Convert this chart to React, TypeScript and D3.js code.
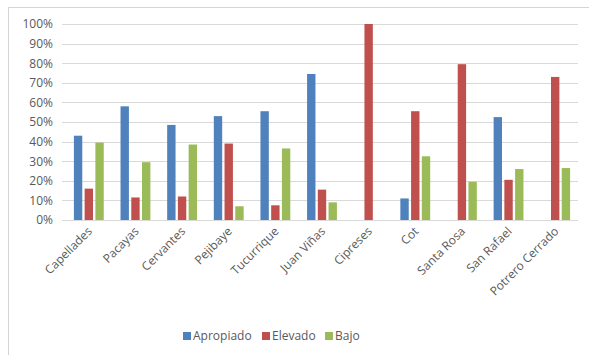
import React from 'react';
import * as d3 from 'd3';

const categories = [
  'Capellades', 'Pacayas', 'Cervantes', 'Pejibaye', 'Tucurrique', 'Juan Viñas',
  'Cipreses', 'Cot', 'Santa Rosa', 'San Rafael', 'Potrero Cerrado',
];
const apropiado = [0.43, 0.58, 0.485, 0.53, 0.555, 0.745, 0, 0.11, 0, 0.525, 0];
const elevado = [0.16, 0.115, 0.12, 0.39, 0.075, 0.155, 1.0, 0.555, 0.795, 0.205, 0.73];
const bajo = [0.395, 0.295, 0.385, 0.07, 0.365, 0.09, 0, 0.325, 0.195, 0.26, 0.265];
const seriesNames = ['Apropiado', 'Elevado', 'Bajo'];
const colors = ['#4F81BD', '#C0504D', '#9BBB59'];
const yTicks = [0, 0.1, 0.2, 0.3, 0.4, 0.5, 0.6, 0.7, 0.8, 0.9, 1.0];

const App = () => {
  const width = 589;
  const height = 355;
  const left = 65.5;
  const right = 578.5;
  const top = 24;
  const bottom = 220;

  const series = [apropiado, elevado, bajo];

  const x = d3.scaleBand<string>().domain(categories).range([left, right]).paddingInner(0.36).paddingOuter(0.18);
  const xSub = d3.scaleBand<number>().domain([0, 1, 2]).range([0, x.bandwidth()]).paddingInner(0.22);
  const y = d3.scaleLinear().domain([0, 1]).range([bottom, top]);
  const fmt = d3.format('.0%');
  const font = "'Open Sans', sans-serif";

  const legendX = [183, 262, 325];

  return (
    <svg width={width} height={height} style={{ position: 'absolute', left: 0, top: 0, background: '#fff' }}>
      <line x1={8} x2={width} y1={7.5} y2={7.5} stroke="#d4d4d4" />
      <line x1={8.5} x2={8.5} y1={7} y2={height} stroke="#d4d4d4" />
      {yTicks.map(t => (
        <g key={t}>
          <line x1={62} x2={578} y1={Math.round(y(t)) + 0.5} y2={Math.round(y(t)) + 0.5} stroke="#d9d9d9" />
          <text x={53} y={y(t)} dy="0.36em" textAnchor="end" fontFamily={font} fontSize={12} fill="#595959">
            {fmt(t)}
          </text>
        </g>
      ))}
      {categories.map((c, i) => (
        <g key={c}>
          {series.map((s, j) =>
            s[i] > 0 ? (
              <rect
                key={j}
                x={(x(c) as number) + (xSub(j) as number)}
                y={y(s[i])}
                width={xSub.bandwidth()}
                height={y(0) - y(s[i])}
                fill={colors[j]}
              />
            ) : null
          )}
          <text
            transform={`translate(${(x(c) as number) + x.bandwidth() / 2 + 1},${bottom + 9}) rotate(-45)`}
            textAnchor="end"
            dy="0.36em"
            fontFamily={font}
            fontSize={12}
            fill="#595959"
          >
            {c}
          </text>
        </g>
      ))}
      {seriesNames.map((n, j) => (
        <g key={n}>
          <rect x={legendX[j]} y={332} width={8} height={8} fill={colors[j]} />
          <text x={legendX[j] + 10} y={336} dy="0.36em" fontFamily={font} fontSize={12} fill="#595959">
            {n}
          </text>
        </g>
      ))}
    </svg>
  );
};

export default App;
